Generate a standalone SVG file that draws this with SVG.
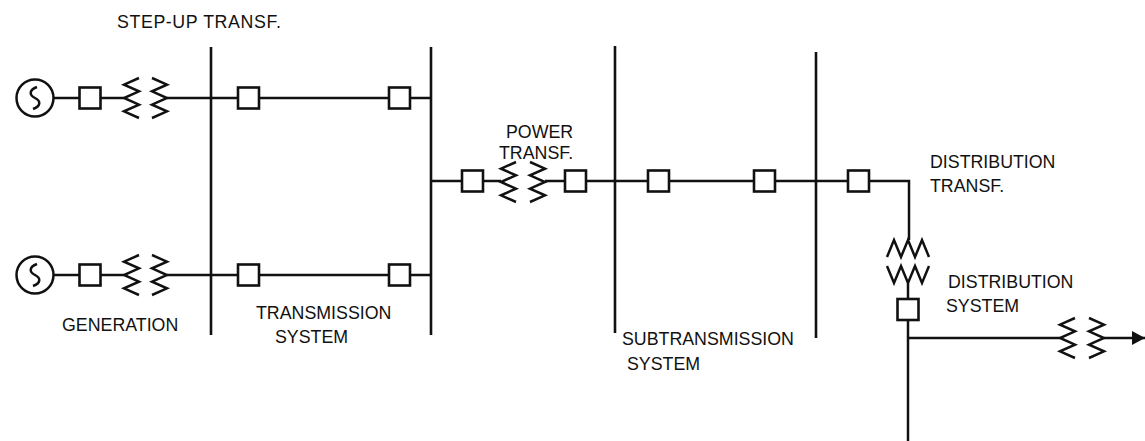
<svg xmlns="http://www.w3.org/2000/svg" xmlns:xlink="http://www.w3.org/1999/xlink" width="1145" height="441" viewBox="0 0 1145 441">
<style>
  .w { stroke:#111; stroke-width:2.5; fill:none; stroke-linecap:butt; }
  .bus { stroke:#111; stroke-width:2.6; fill:none; }
  .box { stroke:#111; stroke-width:2.6; fill:#fff; }
  .coil { stroke:#111; stroke-width:2.5; fill:none; stroke-linejoin:miter; }
  .gen { stroke:#111; stroke-width:2.5; fill:#fff; }
  text { font-family:"Liberation Sans", Arial, Helvetica, sans-serif; font-size:17.8px; fill:#111; }
</style>
<defs>
  <path id="coilL" class="coil" d="M15,-20 L0,-13.3 L15,-6.7 L0,0 L15,6.7 L0,13.3 L15,20"/>
  <path id="coilR" class="coil" d="M0,-20 L15,-13.3 L0,-6.7 L15,0 L0,6.7 L15,13.3 L0,20"/>
  <g id="genSym">
    <circle class="gen" cx="0" cy="0" r="18.5"/>
    <path class="coil" d="M2,-11 C-6,-8 -6,-3 0,0 C6,3 6,8 -2,11"/>
  </g>
  <rect id="brk" class="box" x="0" y="0" width="21" height="21"/>
  <marker id="arrow" markerUnits="userSpaceOnUse" markerWidth="14" markerHeight="16" refX="13" refY="7" orient="auto">
    <path d="M0,0 L13,7 L0,14 Z" fill="#111"/>
  </marker>
</defs>

<g id="connectors">
  <!-- buses -->
  <line class="bus" x1="211" y1="47" x2="211" y2="335"/>
  <line class="bus" x1="431" y1="47" x2="431" y2="335"/>
  <line class="bus" x1="615" y1="46" x2="615" y2="333"/>
  <line class="bus" x1="816" y1="52" x2="816" y2="338"/>
  <!-- row 1 -->
  <line class="w" x1="53" y1="98" x2="80" y2="98"/>
  <line class="w" x1="100" y1="98" x2="124" y2="98"/>
  <line class="w" x1="167" y1="98" x2="431" y2="98"/>
  <!-- row 2 -->
  <line class="w" x1="53" y1="275" x2="80" y2="275"/>
  <line class="w" x1="100" y1="275" x2="124" y2="275"/>
  <line class="w" x1="167" y1="275" x2="431" y2="275"/>
  <!-- middle -->
  <line class="w" x1="431" y1="181" x2="501" y2="181"/>
  <polyline class="w" points="545,181 909,181 909,240"/>
  <!-- distribution -->
  <line class="w" x1="908" y1="283" x2="908" y2="299"/>
  <line class="w" x1="908" y1="320" x2="908" y2="441"/>
  <line class="w" x1="908" y1="338" x2="1060" y2="338"/>
  <line class="w" x1="1104" y1="338" x2="1145" y2="338" marker-end="url(#arrow)"/>
</g>

<g id="gen1"><use xlink:href="#genSym" href="#genSym" transform="translate(35,98)"/></g>
<g id="gen2"><use xlink:href="#genSym" href="#genSym" transform="translate(35,275)"/></g>

<g id="breaker1"><use xlink:href="#brk" href="#brk" transform="translate(79.5,87.5)"/></g>
<g id="breaker2"><use xlink:href="#brk" href="#brk" transform="translate(238,87.5)"/></g>
<g id="breaker3"><use xlink:href="#brk" href="#brk" transform="translate(389,87.5)"/></g>
<g id="breaker4"><use xlink:href="#brk" href="#brk" transform="translate(79.5,264.5)"/></g>
<g id="breaker5"><use xlink:href="#brk" href="#brk" transform="translate(238,264.5)"/></g>
<g id="breaker6"><use xlink:href="#brk" href="#brk" transform="translate(389,264.5)"/></g>
<g id="breaker7"><use xlink:href="#brk" href="#brk" transform="translate(462,170.5)"/></g>
<g id="breaker8"><use xlink:href="#brk" href="#brk" transform="translate(565,170.5)"/></g>
<g id="breaker9"><use xlink:href="#brk" href="#brk" transform="translate(648,170.5)"/></g>
<g id="breaker10"><use xlink:href="#brk" href="#brk" transform="translate(754,170.5)"/></g>
<g id="breaker11"><use xlink:href="#brk" href="#brk" transform="translate(848,170.5)"/></g>
<g id="breaker12"><use xlink:href="#brk" href="#brk" transform="translate(897.5,299)"/></g>

<g id="stepup1">
  <use xlink:href="#coilL" href="#coilL" transform="translate(124,98)"/>
  <use xlink:href="#coilR" href="#coilR" transform="translate(152,98)"/>
</g>
<g id="stepup2">
  <use xlink:href="#coilL" href="#coilL" transform="translate(124,275)"/>
  <use xlink:href="#coilR" href="#coilR" transform="translate(152,275)"/>
</g>
<g id="powertransf">
  <use xlink:href="#coilL" href="#coilL" transform="translate(501,182)"/>
  <use xlink:href="#coilR" href="#coilR" transform="translate(530,182)"/>
</g>
<g id="disttransf">
  <path class="coil" d="M887,257 L894,240 L901,257 L908,240 L915,257 L922,240 L929,257"/>
  <path class="coil" d="M887,266 L894,283 L901,266 L908,283 L915,266 L922,283 L929,266"/>
</g>
<g id="loadtransf">
  <use xlink:href="#coilL" href="#coilL" transform="translate(1060,338)"/>
  <use xlink:href="#coilR" href="#coilR" transform="translate(1089,338)"/>
</g>

<g id="labels">
  <text x="117" y="28" letter-spacing="0.6">STEP-UP TRANSF.</text>
  <text x="506" y="138">POWER</text>
  <text x="499" y="159">TRANSF.</text>
  <text x="930" y="168">DISTRIBUTION</text>
  <text x="930" y="192">TRANSF.</text>
  <text x="948" y="288">DISTRIBUTION</text>
  <text x="946" y="312">SYSTEM</text>
  <text x="62" y="331">GENERATION</text>
  <text x="256" y="319">TRANSMISSION</text>
  <text x="275" y="343">SYSTEM</text>
  <text x="622" y="345">SUBTRANSMISSION</text>
  <text x="627" y="370">SYSTEM</text>
</g>
</svg>
